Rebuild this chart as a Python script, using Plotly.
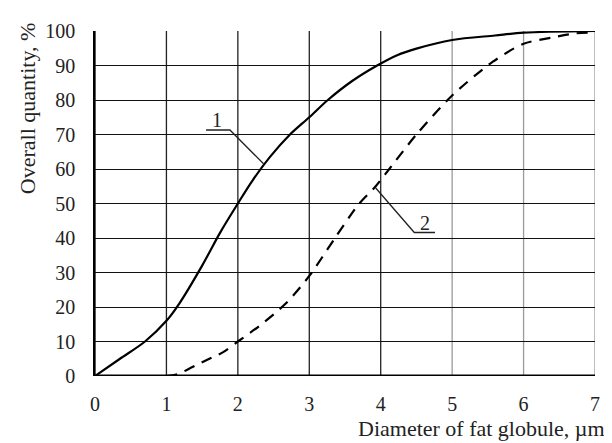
import plotly.graph_objects as go

# Curve 1 (solid)
x1 = [0, 0.35, 0.7, 1.0, 1.18, 1.5, 1.75, 2.0, 2.2, 2.45, 2.73, 3.0, 3.26, 3.6, 3.95, 4.23, 4.5, 5.0, 5.6, 6.0, 7.0]
y1 = [0, 5, 10, 16, 21, 32, 41.5, 50, 56.5, 63.5, 70, 75, 80, 85.5, 90, 93, 94.9, 97.4, 98.7, 99.5, 100]

# Curve 2 (dashed)
x2 = [1.0, 1.15, 1.5, 1.8, 2.0, 2.3, 2.67, 3.0, 3.36, 3.7, 3.93, 4.12, 4.5, 5.0, 5.57, 6.0, 6.4, 6.72, 7.0]
y2 = [0, 0.5, 4, 7, 10, 14.5, 21, 29, 40, 50, 55, 60, 70, 81.3, 91.1, 96.3, 98.1, 99.3, 99.6]

x_ticks = [0, 1, 2, 3, 4, 5, 6, 7]
y_ticks = [0, 10, 20, 30, 40, 50, 60, 70, 80, 90, 100]

FONT = "Liberation Serif, DejaVu Serif, Times New Roman, serif"

fig = go.Figure()

# vertical grid lines (drawn as shapes to allow per-line tone as in the scan)
grid_colors = ["#000000", "#222222", "#222222", "#222222", "#222222", "#9a9a9a", "#9a9a9a", "#9a9a9a"]
for xv, c in zip(x_ticks, grid_colors):
    fig.add_shape(type="line", xref="x", yref="y", x0=xv, x1=xv, y0=0, y1=100,
                  line=dict(color=c, width=1.3), layer="below")

fig.add_trace(go.Scatter(x=x1, y=y1, mode="lines", line=dict(color="black", width=2.2, shape="spline", smoothing=0.9),
                         showlegend=False, hoverinfo="skip"))
fig.add_trace(go.Scatter(x=x2, y=y2, mode="lines", line=dict(color="black", width=2.2, dash="11px,8px", shape="spline", smoothing=0.8),
                         showlegend=False, hoverinfo="skip"))

# leader lines for labels
lead1_x = [1.555, 1.889, 2.36]
lead1_y = [71.3, 71.3, 61.5]
lead2_x = [3.93, 4.47, 4.76]
lead2_y = [54.5, 41.6, 41.6]
for lx, ly in ((lead1_x, lead1_y), (lead2_x, lead2_y)):
    fig.add_trace(go.Scatter(x=lx, y=ly, mode="lines", line=dict(color="#222222", width=1.3),
                             showlegend=False, hoverinfo="skip"))

fig.add_annotation(x=1.71, y=74.3, text="1", showarrow=False, xref="x", yref="y",
                   font=dict(family=FONT, size=20, color="#222222"))
fig.add_annotation(x=4.62, y=44.4, text="2", showarrow=False, xref="x", yref="y",
                   font=dict(family=FONT, size=20, color="#222222"))

# bottom thick axis line
fig.add_shape(type="line", xref="x", yref="y", x0=0, x1=7, y0=0, y1=0,
              line=dict(color="black", width=2.8))

fig.add_annotation(text="Overall quantity, %", xref="paper", yref="paper",
                   x=-0.135, y=0.775, xanchor="center", yanchor="middle", textangle=-90, showarrow=False,
                   font=dict(family=FONT, size=22, color="#222222"))
fig.add_annotation(text="Diameter of fat globule, µm", xref="paper", yref="paper",
                   x=1.024, y=-0.152, xanchor="right", yanchor="middle", showarrow=False,
                   font=dict(family=FONT, size=22, color="#222222"))

fig.update_layout(
    width=604, height=435,
    margin=dict(l=87, r=12, t=12, b=67),
    paper_bgcolor="white", plot_bgcolor="white",
    xaxis=dict(range=[0, 7], tickvals=x_ticks, showgrid=False, zeroline=False,
               showline=False, ticks="", ticklabelstandoff=14,
               tickfont=dict(family=FONT, size=20, color="#222222"), fixedrange=True),
    yaxis=dict(range=[0, 100], tickvals=y_ticks, showgrid=True, gridcolor="#111111", gridwidth=1.3,
               zeroline=False, showline=True, linecolor="black", linewidth=1.5, mirror=False,
               ticks="", ticklabelstandoff=14,
               tickfont=dict(family=FONT, size=20, color="#222222"), fixedrange=True),
)

fig.write_html("out.html", config={"displayModeBar": False})
